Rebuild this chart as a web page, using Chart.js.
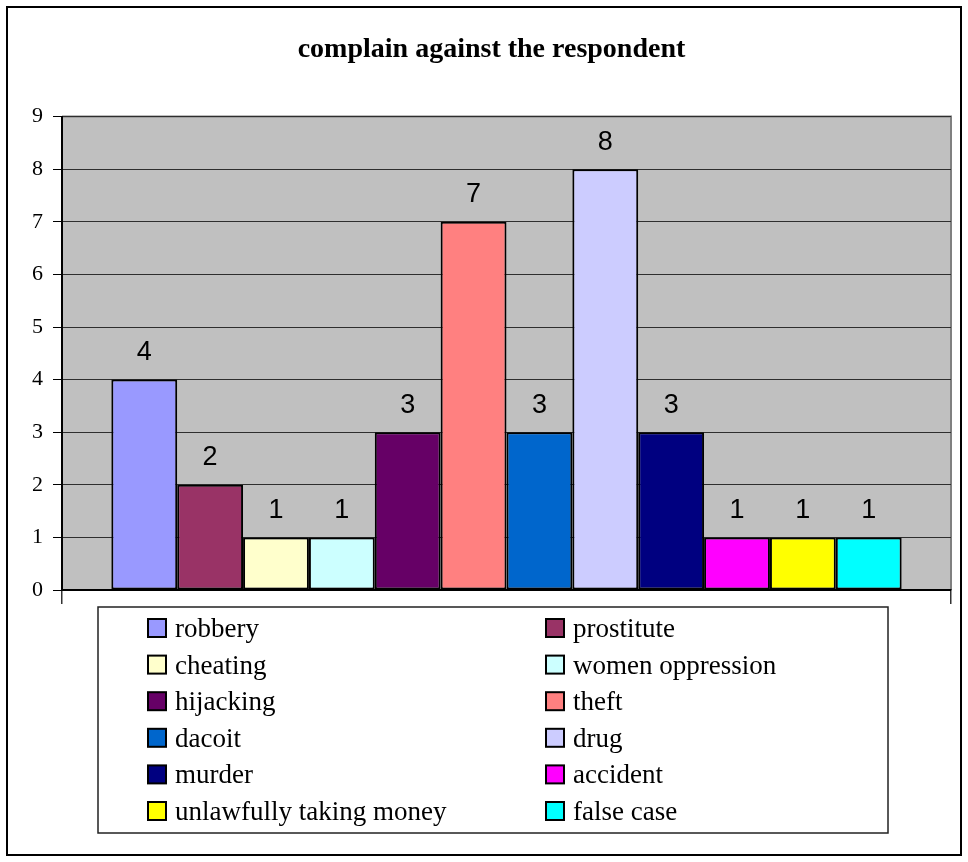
<!DOCTYPE html>
<html>
<head>
<meta charset="utf-8">
<title>complain against the respondent</title>
<style>
  html, body { margin: 0; padding: 0; background: #fff; }
  #wrap { width: 968px; height: 862px; }
</style>
</head>
<body>
<div id="wrap"><canvas id="chart" width="968" height="862"></canvas></div>
<script src="https://cdn.jsdelivr.net/npm/chart.js@4/dist/chart.umd.min.js"></script>
<script>
const complaintTypes = [
  "robbery", "prostitute", "cheating", "women oppression",
  "hijacking", "theft", "dacoit", "drug",
  "murder", "accident", "unlawfully taking money", "false case",
];
const complaintCounts = [4, 2, 1, 1, 3, 7, 3, 8, 3, 1, 1, 1];
const barColors = [
  "#9999FF", "#993366", "#FFFFCC", "#CCFFFF",
  "#660066", "#FF8080", "#0066CC", "#CCCCFF",
  "#000080", "#FF00FF", "#FFFF00", "#00FFFF",
];
const yMin = 0;
const yMax = 9;
const yStep = 1;

const serif = "'Liberation Serif', 'Times New Roman', serif";

// grey plot area with its frame, plus the outer border of the picture
const plotBackground = {
  id: "plotBackground",
  beforeDraw(chart) {
    const { ctx, chartArea, width, height } = chart;
    ctx.save();
    ctx.fillStyle = "#fff";
    ctx.fillRect(0, 0, width, height);
    ctx.strokeStyle = "#000";
    ctx.lineWidth = 2;
    ctx.strokeRect(7, 7, width - 14, height - 14);
    ctx.fillStyle = "#C0C0C0";
    ctx.fillRect(chartArea.left, chartArea.top, chartArea.width, chartArea.height);
    ctx.strokeStyle = "#808080";
    ctx.lineWidth = 2;
    ctx.beginPath();
    ctx.moveTo(chartArea.left, chartArea.top);
    ctx.lineTo(chartArea.right, chartArea.top);
    ctx.lineTo(chartArea.right, chartArea.bottom);
    ctx.stroke();
    ctx.restore();
  },
};

// value printed above each bar
const barValueLabels = {
  id: "barValueLabels",
  afterDatasetsDraw(chart) {
    const { ctx } = chart;
    ctx.save();
    ctx.font = "27px 'Liberation Sans', Arial, sans-serif";
    ctx.fillStyle = "#000";
    ctx.textAlign = "center";
    ctx.textBaseline = "middle";
    chart.data.datasets.forEach((ds, i) => {
      const bar = chart.getDatasetMeta(i).data[0];
      ctx.fillText(String(ds.data[0]), bar.x, bar.y - 27);
    });
    ctx.restore();
  },
};

// two-column boxed legend under the plot
const boxLegend = {
  id: "boxLegend",
  afterDraw(chart) {
    const { ctx, chartArea } = chart;
    const left = chartArea.left + 36;
    const top = chartArea.bottom + 17;
    const boxW = 790;
    const boxH = 226;
    const rowGap = 36.6;
    const colX = [left + 50, left + 448];
    const sw = 18;

    ctx.save();
    ctx.fillStyle = "#fff";
    ctx.fillRect(left, top, boxW, boxH);
    ctx.strokeStyle = "#222";
    ctx.lineWidth = 1.5;
    ctx.strokeRect(left, top, boxW, boxH);

    ctx.font = "27px " + serif;
    ctx.textBaseline = "alphabetic";
    ctx.textAlign = "left";
    chart.data.datasets.forEach((ds, i) => {
      const x = colX[i % 2];
      const cy = top + 21 + Math.floor(i / 2) * rowGap;
      ctx.fillStyle = ds.backgroundColor;
      ctx.fillRect(x, cy - sw / 2, sw, sw);
      ctx.strokeStyle = "#000";
      ctx.lineWidth = 2;
      ctx.strokeRect(x, cy - sw / 2, sw, sw);
      ctx.fillStyle = "#000";
      ctx.fillText(ds.label, x + sw + 9, cy + 9);
    });
    ctx.restore();
  },
};

const datasets = complaintTypes.map((name, i) => ({
  label: name,
  data: [complaintCounts[i]],
  backgroundColor: barColors[i],
  borderColor: "#000",
  borderWidth: 2,
  borderSkipped: false,
  categoryPercentage: 0.889,
  barPercentage: 1,
}));

new Chart(document.getElementById("chart"), {
  type: "bar",
  data: { labels: [""], datasets },
  options: {
    responsive: false,
    devicePixelRatio: 1,
    animation: false,
    layout: { padding: { left: 32, right: 17, top: 0, bottom: 258 } },
    plugins: {
      legend: { display: false },
      tooltip: { enabled: false },
      title: {
        display: true,
        text: "complain against the respondent",
        color: "#000",
        font: { family: serif, size: 28, weight: "bold" },
        padding: { top: 33, bottom: 50 },
      },
    },
    scales: {
      x: {
        ticks: { display: false },
        grid: { offset: true, drawOnChartArea: false, tickLength: 14, color: "#333", lineWidth: 1.5 },
        border: { color: "#000", width: 2 },
      },
      y: {
        min: yMin,
        max: yMax,
        ticks: {
          stepSize: yStep,
          color: "#000",
          padding: 10,
          font: { family: serif, size: 22 },
        },
        grid: { color: "#2e2e2e", lineWidth: 1, tickLength: 9, tickColor: "#000" },
        border: { color: "#000", width: 2 },
        afterFit(scale) {
          scale.width = 30;
        },
      },
    },
  },
  plugins: [plotBackground, barValueLabels, boxLegend],
});
</script>
</body>
</html>
